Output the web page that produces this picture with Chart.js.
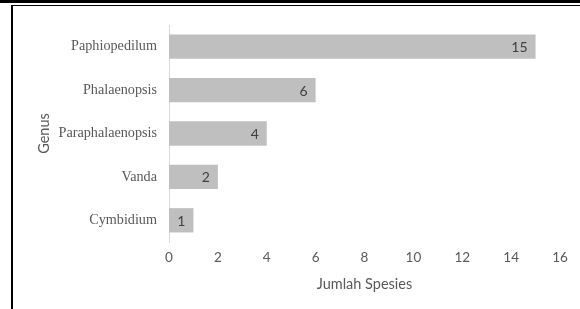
<!DOCTYPE html>
<html lang="id">
<head>
  <meta charset="UTF-8">
  <title>Jumlah Spesies per Genus</title>
  <script src="https://cdn.jsdelivr.net/npm/chart.js"></script>
  <style>
    body { margin: 0; background: #fff; }
    #wrap { position: relative; width: 580px; height: 309px; }
    #chart { position: absolute; left: 0; top: 0; }
    .topline { position: absolute; left: 0; top: 0; width: 580px; height: 3px; background: #000; }
    .frame { position: absolute; left: 11px; top: 5px; right: 0; bottom: 0; border-top: 1px solid #000; border-left: 2px solid #000; }
  </style>
</head>
<body>
  <div id="wrap">
    <canvas id="chart" width="580" height="309"></canvas>
    <div class="topline"></div>
    <div class="frame"></div>
  </div>

  <script>
    const genusLabels = ['Paphiopedilum', 'Phalaenopsis', 'Paraphalaenopsis', 'Vanda', 'Cymbidium'];
    const speciesCounts = [15, 6, 4, 2, 1];
    const xTicks = [0, 2, 4, 6, 8, 10, 12, 14, 16];

    const sansFont = 'Lato, "Open Sans", sans-serif';
    const serifFont = '"Liberation Serif", "DejaVu Serif", serif';

    // draw the value inside the end of each bar
    const valueLabels = {
      id: 'valueLabels',
      afterDatasetsDraw(chart) {
        const c = chart.ctx;
        const meta = chart.getDatasetMeta(0);
        c.save();
        c.font = '14px ' + sansFont;
        c.fillStyle = '#404040';
        c.textAlign = 'right';
        c.textBaseline = 'middle';
        meta.data.forEach((bar, i) => {
          c.fillText(String(speciesCounts[i]), bar.x - 8, bar.y + 1);
        });
        c.restore();
      }
    };

    new Chart(document.getElementById('chart'), {
      type: 'bar',
      data: {
        labels: genusLabels,
        datasets: [{
          data: speciesCounts,
          backgroundColor: '#bfbfbf',
          borderWidth: 0,
          barPercentage: 0.56,
          categoryPercentage: 1
        }]
      },
      options: {
        indexAxis: 'y',
        responsive: false,
        animation: false,
        layout: { padding: { top: 25, right: 20, left: 32, bottom: 0 } },
        plugins: { legend: { display: false }, tooltip: { enabled: false } },
        scales: {
          x: {
            min: 0,
            max: 16,
            afterBuildTicks: (axis) => { axis.ticks = xTicks.map(v => ({ value: v })); },
            afterFit: (axis) => { axis.height = 67; },
            grid: { display: false, drawTicks: false },
            border: { display: false },
            ticks: { color: '#595959', font: { family: sansFont, size: 13.5 }, padding: 8 },
            title: {
              display: true,
              text: 'Jumlah Spesies',
              color: '#595959',
              font: { family: sansFont, size: 14.5 },
              padding: { top: 4, bottom: 16 }
            }
          },
          y: {
            afterFit: (axis) => { axis.width = 137; },
            grid: { display: false, drawTicks: false },
            border: { display: true, color: '#d9d9d9', width: 1 },
            ticks: { color: '#595959', font: { family: serifFont, size: 14.2 }, padding: 12 },
            title: {
              display: true,
              text: 'Genus',
              color: '#595959',
              font: { family: sansFont, size: 14.5 },
              padding: { top: 4, bottom: 4 }
            }
          }
        }
      },
      plugins: [valueLabels]
    });
  </script>
</body>
</html>
